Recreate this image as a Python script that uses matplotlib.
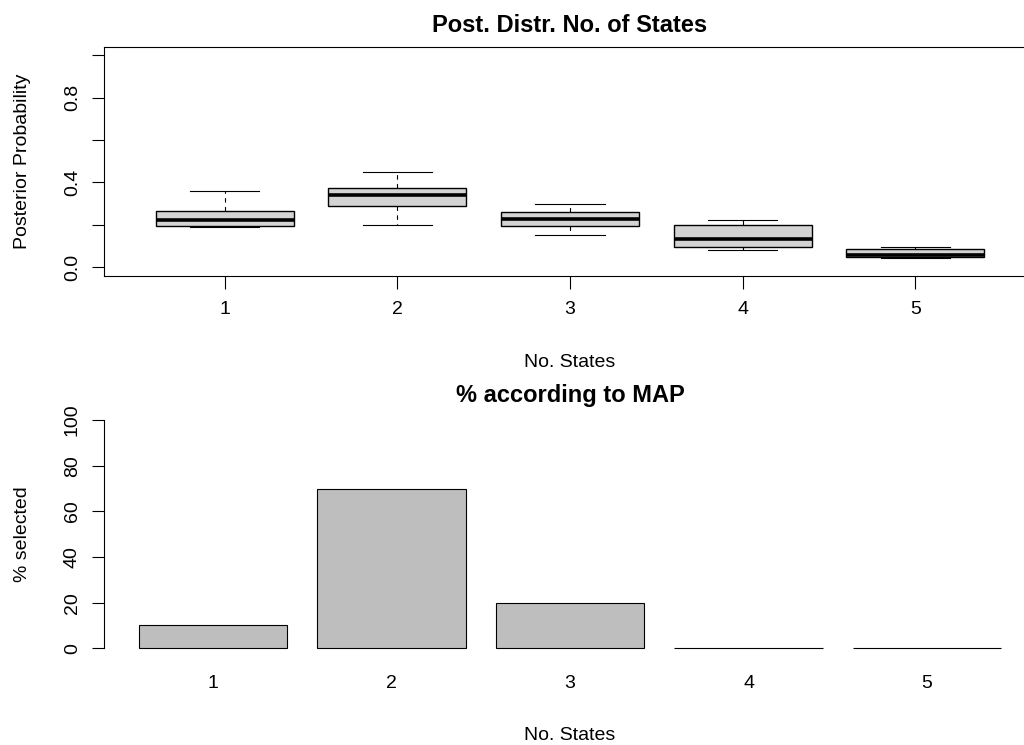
import matplotlib
matplotlib.use("Agg")
import matplotlib.pyplot as plt

plt.rcParams["font.family"] = ["Liberation Sans", "DejaVu Sans"]

# posterior probability of the number of states (box summaries)
n_states = [1, 2, 3, 4, 5]
whisker_low = [0.188, 0.198, 0.152, 0.079, 0.044]
quart_1 = [0.196, 0.289, 0.193, 0.094, 0.047]
median = [0.223, 0.339, 0.228, 0.132, 0.058]
quart_3 = [0.264, 0.372, 0.259, 0.200, 0.088]
whisker_high = [0.361, 0.450, 0.298, 0.223, 0.097]

# % of runs where each number of states was the MAP
pct_selected = [10, 70, 20, 0, 0]
state_labels = ["1", "2", "3", "4", "5"]

W, H = 1024, 745


def px_rect(left, top, right, bottom):
    return [left / W, 1 - bottom / H, (right - left) / W, (bottom - top) / H]


def px_text(x, y, s, **kw):
    fig.text(x / W, 1 - y / H, s, **kw)


fig = plt.figure(figsize=(W / 100, H / 100), dpi=100)

# top: boxplots
ax1 = fig.add_axes(px_rect(104, 46.7, 1036, 275.7))
stats = [
    dict(whislo=lo, q1=a, med=m, q3=b, whishi=hi, fliers=[])
    for lo, a, m, b, hi in zip(whisker_low, quart_1, median, quart_3, whisker_high)
]
ax1.bxp(
    stats,
    positions=n_states,
    widths=0.8,
    capwidths=0.4,
    patch_artist=True,
    showfliers=False,
    boxprops=dict(facecolor="#D3D3D3", edgecolor="black", linewidth=1.0),
    medianprops=dict(color="black", linewidth=2.6, solid_capstyle="butt"),
    whiskerprops=dict(color="black", linewidth=0.8, linestyle=(0, (4, 4))),
    capprops=dict(color="black", linewidth=0.8),
)
ax1.set_xlim(0.3, 5.7)
ax1.set_ylim(-0.04, 1.04)
ax1.set_xticks(n_states, state_labels)
ax1.set_yticks([0, 0.2, 0.4, 0.6, 0.8, 1.0], ["0.0", "", "0.4", "", "0.8", ""],
               rotation=90, va="center")
ax1.tick_params(length=9, width=0.8, labelsize=14)
ax1.tick_params(axis="x", pad=9.5)
ax1.tick_params(axis="y", pad=7.7)
for sp in ax1.spines.values():
    sp.set_linewidth(0.8)

# bottom: barplot
ax2 = fig.add_axes(px_rect(104, 411, 1036, 657.4))
centers = [0.7 + 1.2 * i for i in range(len(pct_selected))]
ax2.bar(centers, pct_selected, width=1.0, color="#BEBEBE", edgecolor="black", linewidth=0.8)
ax2.set_xlim(-0.032, 6.232)
ax2.set_ylim(-4, 104)
for side in ["top", "right", "bottom"]:
    ax2.spines[side].set_visible(False)
ax2.spines["left"].set_bounds(0, 100)
ax2.spines["left"].set_linewidth(0.8)
ax2.set_yticks([0, 20, 40, 60, 80, 100], ["0", "20", "40", "60", "80", "100"],
               rotation=90, va="center")
ax2.set_xticks(centers, state_labels)
ax2.tick_params(axis="y", length=9, width=0.8, labelsize=14, pad=7.7)
ax2.tick_params(axis="x", length=0, labelsize=14, pad=12.5)

# titles and axis labels
px_text(570, 32.3, "Post. Distr. No. of States", ha="center", va="baseline",
        fontsize=17, fontweight="bold")
px_text(570, 366.7, "No. States", ha="center", va="baseline", fontsize=14)
px_text(23, 161.2, "Posterior Probability", ha="center", va="center",
        rotation=90, fontsize=14)

px_text(570, 402, "% according to MAP", ha="center", va="baseline",
        fontsize=17, fontweight="bold")
px_text(570, 740, "No. States", ha="center", va="baseline", fontsize=14)
px_text(23, 534, "% selected", ha="center", va="center", rotation=90, fontsize=14)

fig.savefig("out.png", dpi=100)
